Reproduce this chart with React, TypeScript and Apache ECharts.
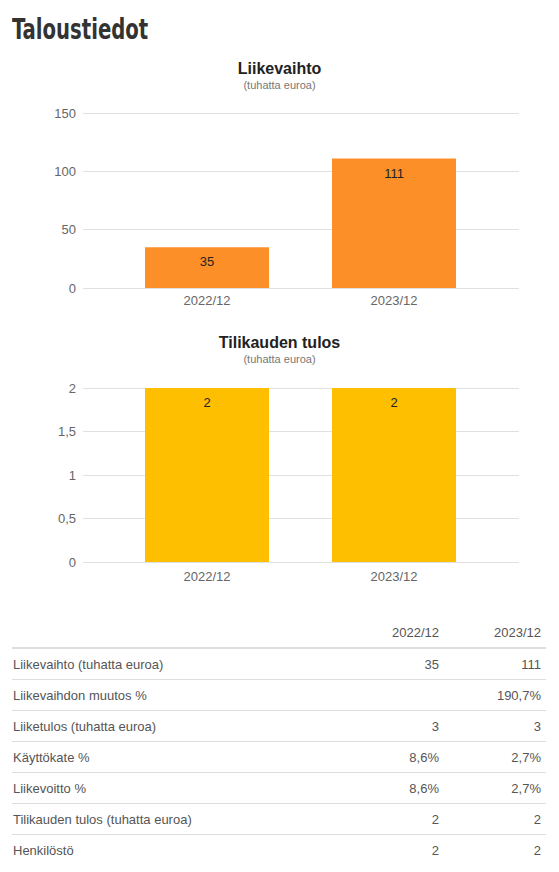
import { useEffect, useRef } from "react";
import * as echarts from "echarts";

const periods = ["2022/12", "2023/12"];
const revenue = [35, 111];
const netResult = [2, 2];
const revenueTicks = { min: 0, max: 150, interval: 50 };
const resultTicks = { min: 0, max: 2, interval: 0.5 };

const rowLabels = [
  "Liikevaihto (tuhatta euroa)",
  "Liikevaihdon muutos %",
  "Liiketulos (tuhatta euroa)",
  "Käyttökate %",
  "Liikevoitto %",
  "Tilikauden tulos (tuhatta euroa)",
  "Henkilöstö",
];
const values2022 = ["35", "", "3", "8,6%", "8,6%", "2", "2"];
const values2023 = ["111", "190,7%", "3", "2,7%", "2,7%", "2", "2"];

const FONT = "'Liberation Sans', Arial, sans-serif";
const GRID_COLOR = "#e0e0e0";
const LABEL_COLOR = "#666";

function commaNum(v: number) {
  return String(v).replace(".", ",");
}

function buildOption(): echarts.EChartsOption {
  // two grids per chart: wide one for the gridlines, narrower one for the bars
  const lineGrid = (top: number, height: number) => ({ left: 83, right: 40, top, height });
  const barGrid = (top: number, height: number) => ({ left: 113.5, width: 374, top, height });

  const titleBlock = (text: string, top: number) => ({
    text,
    subtext: "(tuhatta euroa)",
    left: "center",
    top,
    itemGap: 3,
    textStyle: { fontFamily: FONT, fontSize: 16, fontWeight: "bold" as const, color: "#222" },
    subtextStyle: { fontFamily: FONT, fontSize: 11, color: "#777" },
  });

  const valueAxis = (grid: number, ticks: typeof revenueTicks, show: boolean) => ({
    type: "value" as const,
    gridIndex: grid,
    min: ticks.min,
    max: ticks.max,
    interval: ticks.interval,
    show,
    axisLine: { show: false },
    axisTick: { show: false },
    axisLabel: {
      color: LABEL_COLOR,
      fontFamily: FONT,
      fontSize: 13,
      margin: 7,
      formatter: (v: number) => commaNum(v),
    },
    splitLine: { show, lineStyle: { color: GRID_COLOR, width: 1 } },
  });

  const catAxis = (grid: number, showLabels: boolean, margin: number) => ({
    type: "category" as const,
    gridIndex: grid,
    data: periods,
    show: showLabels,
    axisLine: { show: false },
    axisTick: { show: false },
    axisLabel: { color: LABEL_COLOR, fontFamily: FONT, fontSize: 13, margin },
  });

  const barSeries = (
    grid: number,
    data: number[],
    color: string
  ): echarts.BarSeriesOption => ({
    type: "bar",
    xAxisIndex: grid,
    yAxisIndex: grid,
    data,
    barWidth: 124,
    itemStyle: { color },
    label: {
      show: true,
      position: "insideTop",
      distance: 8,
      color: "#222",
      fontFamily: FONT,
      fontSize: 13,
    },
  });

  return {
    animation: false,
    title: [titleBlock("Liikevaihto", 5), titleBlock("Tilikauden tulos", 279)],
    grid: [lineGrid(63, 175), barGrid(63, 175), lineGrid(338, 174), barGrid(338, 174)],
    xAxis: [
      catAxis(0, false, 6),
      catAxis(1, true, 6),
      catAxis(2, false, 8),
      catAxis(3, true, 8),
    ],
    yAxis: [
      valueAxis(0, revenueTicks, true),
      valueAxis(1, revenueTicks, false),
      valueAxis(2, resultTicks, true),
      valueAxis(3, resultTicks, false),
    ],
    series: [barSeries(1, revenue, "#fd8f28"), barSeries(3, netResult, "#fdbf00")],
  };
}

function Charts() {
  const ref = useRef<HTMLDivElement>(null);

  useEffect(() => {
    if (!ref.current) return;
    const chart = echarts.init(ref.current, undefined, { renderer: "svg" });
    chart.setOption(buildOption());
    return () => chart.dispose();
  }, []);

  return (
    <div
      ref={ref}
      style={{ position: "absolute", left: 0, top: 50, width: 559, height: 550 }}
    />
  );
}

export default function App() {
  return (
    <div style={{ position: "absolute", left: 0, top: 0, width: 559, height: 872, background: "#fff" }}>
      <div
        style={{
          position: "absolute",
          left: 12,
          top: 16,
          fontFamily: "'DejaVu Sans Condensed', sans-serif",
          fontWeight: "bold",
          fontSize: 28,
          lineHeight: "28px",
          color: "#333",
          transform: "scaleX(0.78)",
          transformOrigin: "left center",
          whiteSpace: "nowrap",
        }}
      >
        Taloustiedot
      </div>
      <Charts />
      <div
        style={{
          position: "absolute",
          left: 12,
          top: 617,
          width: 534,
          fontFamily: FONT,
          fontSize: 13,
          color: "#555",
        }}
      >
        <div style={{ display: "flex", height: 30, alignItems: "center", borderBottom: "2px solid #ddd" }}>
          <div style={{ flex: 1 }} />
          <div style={{ width: 100, textAlign: "right", paddingRight: 5, boxSizing: "border-box" }}>{periods[0]}</div>
          <div style={{ width: 102, textAlign: "right", paddingRight: 5, boxSizing: "border-box" }}>{periods[1]}</div>
        </div>
        {rowLabels.map((label, i) => (
          <div
            key={label}
            style={{
              display: "flex",
              height: 30,
              alignItems: "center",
              borderBottom: i < rowLabels.length - 1 ? "1px solid #ddd" : "none",
            }}
          >
            <div style={{ flex: 1, paddingLeft: 1 }}>{label}</div>
            <div style={{ width: 100, textAlign: "right", paddingRight: 5, boxSizing: "border-box" }}>{values2022[i]}</div>
            <div style={{ width: 102, textAlign: "right", paddingRight: 5, boxSizing: "border-box" }}>{values2023[i]}</div>
          </div>
        ))}
      </div>
    </div>
  );
}
